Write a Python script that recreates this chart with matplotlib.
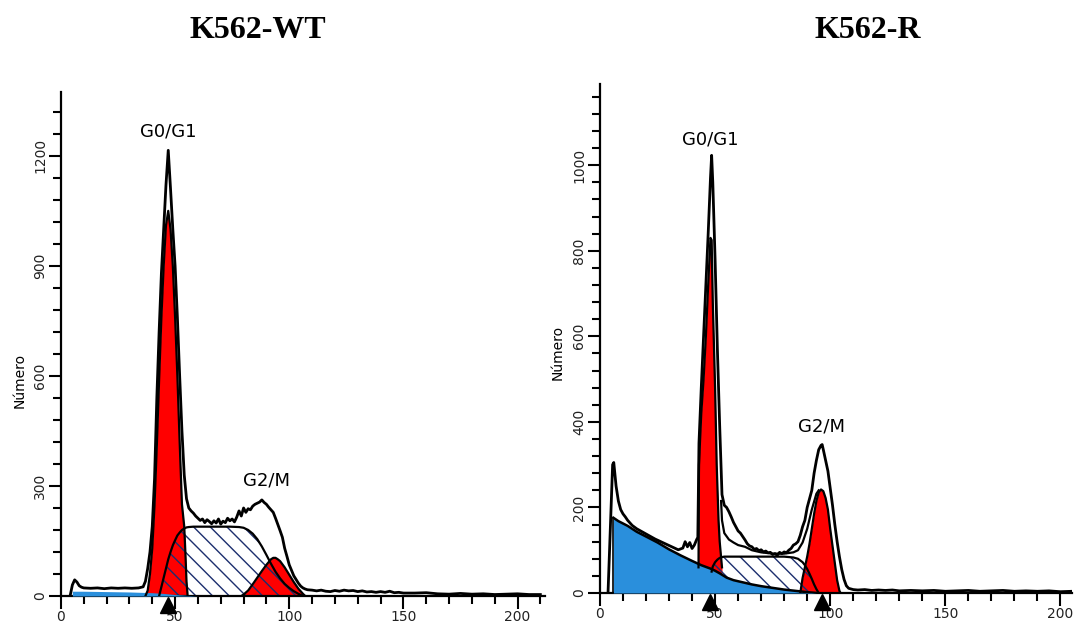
import matplotlib
matplotlib.use("Agg")
import matplotlib.pyplot as plt
from matplotlib.ticker import MultipleLocator

### Cell cycle histograms (DNA content) K562-WT vs K562-R
### values

RED = '#ff0000'
BLUE = '#2a8fdc'
HATCH = '#1c2e6e'

plt.rcParams['hatch.color'] = HATCH
plt.rcParams['hatch.linewidth'] = 1.0
plt.rcParams['font.family'] = ['DejaVu Sans']

#### K562-WT ####
wt_raw_x = [4, 5, 6, 7, 8, 9, 10, 13, 16, 19, 22, 25, 28, 31, 34, 36, 37, 38, 39, 40,
            41, 42, 43, 44, 45, 46, 47, 48, 49, 50, 51, 52, 53, 54, 55, 56, 57, 58, 59, 60,
            61, 62, 63, 64, 65, 66, 67, 68, 69, 70, 71, 72, 73, 74, 75, 76, 77, 78, 79, 80,
            81, 82, 83, 84, 85, 86, 87, 88, 89, 90, 91, 92, 93, 94, 95, 96, 97, 98, 99, 100,
            101, 102, 103, 104, 105, 106, 107, 108, 110, 112, 114, 116, 118, 120, 122, 124,
            126, 128, 130, 132, 134, 136, 138, 140, 142, 144, 146, 148, 150, 155, 160, 165,
            170, 175, 180, 185, 190, 195, 200, 205, 210]
wt_raw_y = [0, 30, 44, 38, 28, 24, 22, 21, 22, 20, 22, 21, 22, 21, 22, 25, 40, 75, 120, 190,
            320, 540, 720, 880, 1000, 1120, 1215, 1110, 1000, 900, 760, 600, 450, 330, 265, 240, 232, 226, 218, 212,
            206, 210, 200, 208, 203, 197, 205, 199, 210, 196, 204, 200, 212, 205, 210, 202, 215, 232, 218, 240,
            228, 238, 235, 245, 250, 253, 256, 262, 255, 250, 242, 235, 228, 212, 195, 178, 160, 130, 108, 85,
            70, 55, 45, 35, 27, 22, 19, 17, 16, 14, 16, 13, 12, 15, 13, 16,
            14, 15, 12, 14, 11, 12, 10, 12, 10, 13, 9, 10, 8, 8, 9, 6,
            5, 7, 5, 6, 4, 5, 6, 4, 4]

wt_g1_x = [37, 38, 39, 40, 41, 42, 43, 44, 45, 46, 47, 48, 49, 50, 51, 52, 53, 54, 54.5, 55, 55.5]
wt_g1_y = [0, 15, 60, 130, 250, 410, 590, 760, 900, 1010, 1050, 1000, 900, 760, 600, 420, 250, 190, 120, 40, 0]

wt_s_x = [43, 44, 45, 46, 47, 48, 49, 50, 51, 52, 53, 54, 55, 56, 58, 62, 66, 70, 74, 78,
          80, 82, 84, 86, 88, 90, 92, 94, 96, 98, 100, 102, 104, 106]
wt_s_y = [0, 25, 50, 75, 100, 120, 138, 152, 165, 173, 180, 184, 187, 188, 189, 189, 189, 189, 189, 188,
          186, 180, 170, 155, 135, 112, 88, 66, 48, 33, 22, 13, 6, 0]

wt_g2_x = [79, 80, 82, 84, 86, 88, 90, 92, 93, 94, 95, 96, 98, 100, 102, 104, 106, 107]
wt_g2_y = [0, 4, 15, 32, 50, 68, 85, 100, 104, 104, 100, 95, 78, 58, 38, 20, 6, 0]

wt_deb_x = [5, 10, 20, 30, 40, 45, 50, 55, 60]
wt_deb_y = [13, 13, 12, 11, 9, 7, 4, 2, 0]

#### K562-R ####
r_raw_x = [3.5, 4.5, 5.5, 6, 7, 8, 9, 10, 11, 12, 14, 16, 18, 20, 22, 24, 26, 28, 30, 32,
           34, 36, 37, 38, 39, 40, 41, 42, 42.5, 43, 44, 45, 46, 47, 48, 48.5, 49, 50, 51, 52,
           53, 54, 55, 56, 57, 58, 59, 60, 61, 62, 63, 64, 65, 66, 67, 68, 69, 70, 71, 72,
           73, 74, 75, 76, 77, 78, 79, 80, 81, 82, 83, 84, 85, 86, 87, 88, 89, 90, 91, 92,
           93, 94, 95, 96, 96.5, 97, 98, 99, 100, 101, 102, 103, 104, 105, 106, 107, 108, 110, 112, 115,
           118, 121, 124, 127, 130, 135, 140, 145, 150, 155, 160, 165, 170, 175, 180, 185, 190, 195, 200, 205]
r_raw_y = [0, 150, 300, 305, 250, 215, 195, 185, 178, 170, 158, 150, 144, 138, 132, 126, 121, 116, 111, 106,
           101, 105, 120, 108, 118, 104, 112, 125, 130, 350, 480, 600, 720, 840, 970, 1023, 960, 780, 570, 390,
           230, 205, 200, 190, 178, 165, 155, 145, 140, 132, 124, 115, 110, 108, 102, 104, 99, 101, 96, 98,
           94, 95, 90, 92, 88, 95, 92, 96, 94, 100, 104, 112, 115, 120, 135, 155, 170, 200, 220, 240,
           280, 310, 335, 345, 347, 335, 310, 285, 245, 205, 160, 120, 85, 55, 32, 17, 11, 8, 7, 8,
           6, 7, 6, 7, 5, 6, 5, 6, 4, 5, 6, 4, 5, 6, 4, 5, 4, 5, 3, 4]

r_fit_x = [52.6, 53, 54, 56, 58, 60, 63, 66, 70, 75, 80, 84, 86, 88, 90, 92, 94, 95]
r_fit_y = [215, 170, 140, 125, 118, 112, 108, 100, 95, 92, 92, 95, 100, 118, 150, 195, 232, 240]

r_g1_x = [42.8, 43, 44, 45, 46, 47, 48, 48.5, 49, 50, 50.7, 51.5, 52, 53]
r_g1_y = [60, 300, 420, 500, 600, 720, 830, 825, 680, 480, 300, 170, 120, 60]

r_s_x = [48.5, 49, 50, 51, 52, 53, 54, 56, 60, 65, 70, 75, 80, 84, 86, 88, 89, 90, 91, 92, 93, 94, 95]
r_s_y = [50, 62, 72, 78, 82, 84, 85, 85, 85, 85, 85, 85, 85, 83, 80, 72, 65, 56, 45, 33, 20, 9, 0]

r_g2_x = [87, 88, 89, 90, 91, 92, 93, 94, 95, 96, 97, 98, 99, 100, 101, 102, 103, 104, 104.5]
r_g2_y = [0, 35, 60, 85, 115, 150, 185, 215, 235, 242, 238, 222, 195, 150, 110, 70, 30, 5, 0]

r_deb_x = [5.8, 8, 12, 16, 20, 25, 30, 35, 40, 44, 48, 50, 52, 55, 58, 62, 66, 70, 75, 80, 85, 90, 94]
r_deb_y = [176, 168, 157, 143, 132, 118, 102, 88, 75, 65, 57, 52, 46, 36, 30, 25, 20, 16, 12, 8, 5, 2, 0]


def draw_panel(ax, raw_x, raw_y, g1_x, g1_y, s_x, s_y, g2_x, g2_y, deb_x, deb_y,
               xmax, ymax, ymajor, yminor, arrows, deb_edge, fit=None):
    # red G1 and G2 peaks first, hatched S phase over them, debris on top
    ax.fill_between(g1_x, 0, g1_y, color=RED, linewidth=0, zorder=1)
    ax.fill_between(g2_x, 0, g2_y, color=RED, linewidth=0, zorder=1)
    ax.fill_between(s_x, 0, s_y, facecolor='none', edgecolor=HATCH, hatch='\\\\',
                    linewidth=0, zorder=2)
    ax.fill_between(deb_x, 0, deb_y, color=BLUE, linewidth=0, zorder=3)
    # outlines
    ax.plot(s_x, s_y, color='black', lw=1.6, zorder=4)
    ax.plot(g1_x, g1_y, color='black', lw=1.6, zorder=4)
    ax.plot(g2_x, g2_y, color='black', lw=1.6, zorder=4)
    if deb_edge:
        ax.plot(deb_x, deb_y, color='black', lw=1.8, zorder=4)
        ax.plot([deb_x[0], deb_x[0]], [0, deb_y[0]], color='black', lw=1.2, zorder=4)
    if fit is not None:
        ax.plot(fit[0], fit[1], color='black', lw=1.6, zorder=4)
    ax.plot(raw_x, raw_y, color='black', lw=2.0, zorder=5)

    ax.set_xlim(0, xmax)
    ax.set_ylim(0, ymax)
    for s in ['top', 'right']:
        ax.spines[s].set_visible(False)
    for s in ['left', 'bottom']:
        ax.spines[s].set_linewidth(1.6)
    ax.xaxis.set_major_locator(MultipleLocator(50))
    ax.xaxis.set_minor_locator(MultipleLocator(10))
    ax.yaxis.set_major_locator(MultipleLocator(ymajor))
    ax.yaxis.set_minor_locator(MultipleLocator(yminor))
    ax.tick_params(which='major', length=9, width=1.5, labelsize=10, labelcolor='#222222', pad=1)
    ax.tick_params(which='minor', length=5.5, width=1.5)
    for lbl in ax.get_yticklabels():
        lbl.set_rotation(90)
        lbl.set_va('center')
    # black arrow heads below the axis
    for a in arrows:
        ax.plot([a], [-0.017 * ymax], marker='^', ms=11, color='black', clip_on=False, zorder=6)


fig = plt.figure(figsize=(10.75, 6.25), dpi=100)
ax1 = fig.add_axes([0.0567, 0.0464, 0.4502, 0.8064])
ax2 = fig.add_axes([0.5581, 0.0512, 0.4391, 0.8146])

draw_panel(ax1, wt_raw_x, wt_raw_y, wt_g1_x, wt_g1_y, wt_s_x, wt_s_y, wt_g2_x, wt_g2_y,
           wt_deb_x, wt_deb_y, 212, 1374, 300, 60, [47], False)
draw_panel(ax2, r_raw_x, r_raw_y, r_g1_x, r_g1_y, r_s_x, r_s_y, r_g2_x, r_g2_y,
           r_deb_x, r_deb_y, 205, 1190, 200, 40, [48, 96.5], True, fit=(r_fit_x, r_fit_y))

ax1.text(47, 1265, 'G0/G1', ha='center', va='center', fontsize=13)
ax1.text(90, 315, 'G2/M', ha='center', va='center', fontsize=13)
ax2.text(48, 1060, 'G0/G1', ha='center', va='center', fontsize=13)
ax2.text(96, 390, 'G2/M', ha='center', va='center', fontsize=13)

fig.text(20 / 1075, 1 - 380 / 625, 'Número', rotation=90, ha='center', va='center', fontsize=10)
fig.text(558 / 1075, 1 - 352 / 625, 'Número', rotation=90, ha='center', va='center', fontsize=10)

fig.text(258 / 1075, 1 - 30 / 625, 'K562-WT', ha='center', va='center', fontsize=23,
         fontweight='bold', family=['Liberation Serif', 'DejaVu Serif'])
fig.text(868 / 1075, 1 - 30 / 625, 'K562-R', ha='center', va='center', fontsize=23,
         fontweight='bold', family=['Liberation Serif', 'DejaVu Serif'])

fig.savefig('out.png', dpi=100)
